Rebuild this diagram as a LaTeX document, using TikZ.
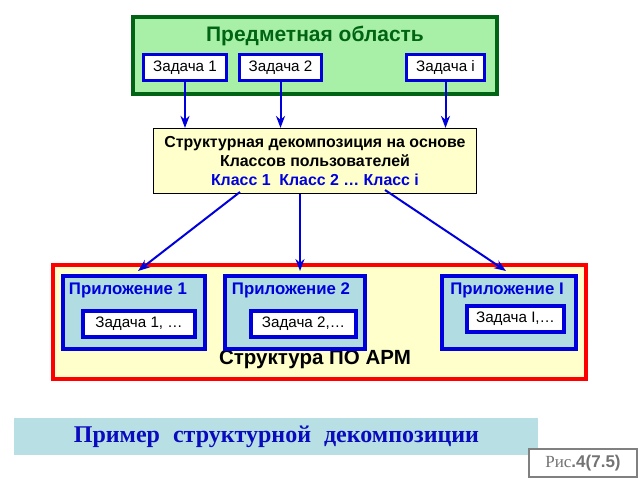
\documentclass[tikz,border=0pt]{standalone}
\usepackage{fontspec}
\setmainfont{Liberation Sans}
\newfontfamily\serifrm{Liberation Serif}
\usepackage{xcolor}
\usetikzlibrary{arrows.meta, positioning, calc}

\definecolor{areagreen}{RGB}{168,240,168}
\definecolor{darkgreen}{RGB}{0,100,20}
\definecolor{taskblue}{RGB}{0,0,220}
\definecolor{classyellow}{RGB}{255,255,204}
\definecolor{appblue}{RGB}{176,220,226}
\definecolor{bannerblue}{RGB}{184,224,228}
\definecolor{titleblue}{RGB}{10,10,190}

\begin{document}
\begin{tikzpicture}[x=1pt, y=-1pt, >=Stealth,
    taskbox/.style={draw=taskblue, line width=3.5pt, fill=white, inner sep=0pt,
        minimum height=26pt, font=\fontsize{15.2}{17}\selectfont},
    appbox/.style={draw=taskblue, line width=4pt, fill=appblue, inner sep=0pt,
        minimum width=#1, minimum height=73pt},
    apptitle/.style={text=taskblue, font=\bfseries\fontsize{16.8}{19}\selectfont},
    link/.style={->, taskblue, line width=2pt}]
        \useasboundingbox (0,0) rectangle (640,480);
        % Subject area
        \node [draw=darkgreen, line width=4pt, fill=areagreen, minimum width=364pt,
            minimum height=77pt] (area) at (314.5,55) {};
        \node [text=darkgreen, font=\bfseries\fontsize{21}{24}\selectfont] (areatitle) at (315,36) {Предметная область};
        \node [taskbox, minimum width=83pt] (task1) at (185,67.5) {Задача 1};
        \node [taskbox, minimum width=82pt] (task2) at (280.5,67.5) {Задача 2};
        \node [taskbox, minimum width=78pt] (taski) at (445.5,67.5) {Задача i};
        % Decomposition by user classes
        \node [draw=black, line width=1.2pt, fill=classyellow, minimum width=323pt,
            minimum height=65pt, align=center, font=\bfseries\fontsize{15.9}{19}\selectfont]
            (classes) at (315,161) {Структурная декомпозиция на основе\\Классов пользователей\\
            \textcolor{taskblue}{Класс 1\ \ Класс 2 \dots\ Класс i}};
        % Arrows down to the classes
        \draw [link] (task1.south) -- (task1.south |- classes.north);
        \draw [link] (task2.south) -- (task2.south |- classes.north);
        \draw [link] (taski.south) -- (taski.south |- classes.north);
        % Workstation software structure
        \node [draw=red, line width=4pt, fill=classyellow, minimum width=533pt,
            minimum height=114pt] (arm) at (319.5,322) {};
        \node [font=\bfseries\fontsize{20.5}{23}\selectfont] (armtitle) at (315,359) {Структура ПО АРМ};
        \node [appbox=142pt] (app1) at (134,312) {};
        \node [appbox=140pt] (app2) at (295,312) {};
        \node [appbox=134pt] (appi) at (509,312) {};
        \node [apptitle] (app1title) at (128,290) {Приложение 1};
        \node [apptitle] (app2title) at (291,290) {Приложение 2};
        \node [apptitle] (appititle) at (507,290) {Приложение I};
        \node [taskbox, minimum width=112pt] (apptask1) at (139,324) {Задача 1, \dots};
        \node [taskbox, minimum width=105pt] (apptask2) at (303.5,324) {Задача 2,\dots};
        \node [taskbox, minimum width=97pt] (apptaski) at (515.5,319) {Задача I,\dots};
        % Arrows from the classes to the applications
        \coordinate (from1) at (240,192);
        \coordinate (from2) at (300,194);
        \coordinate (fromi) at (385,190);
        \draw [link] (from1) -- (138,271);
        \draw [link] (from2) -- (300,271);
        \draw [link] (fromi) -- (506,271);
        % Caption
        \node [fill=bannerblue, minimum width=524pt, minimum height=37pt] (banner) at (276,436.5) {};
        \node [text=titleblue, font=\serifrm\bfseries\fontsize{24}{27}\selectfont] (bannertext)
            at (276.5,437) {Пример\hspace{13pt}структурной\hspace{13pt}декомпозиции};
        \node [draw=gray, line width=1.5pt, fill=white, minimum width=108pt, minimum height=28pt,
            text=gray!90!black, font=\fontsize{17}{19}\selectfont] (fig) at (583,463)
            {{\serifrm Рис}\textbf{.4(7.5)}};
    \end{tikzpicture}
\end{document}
